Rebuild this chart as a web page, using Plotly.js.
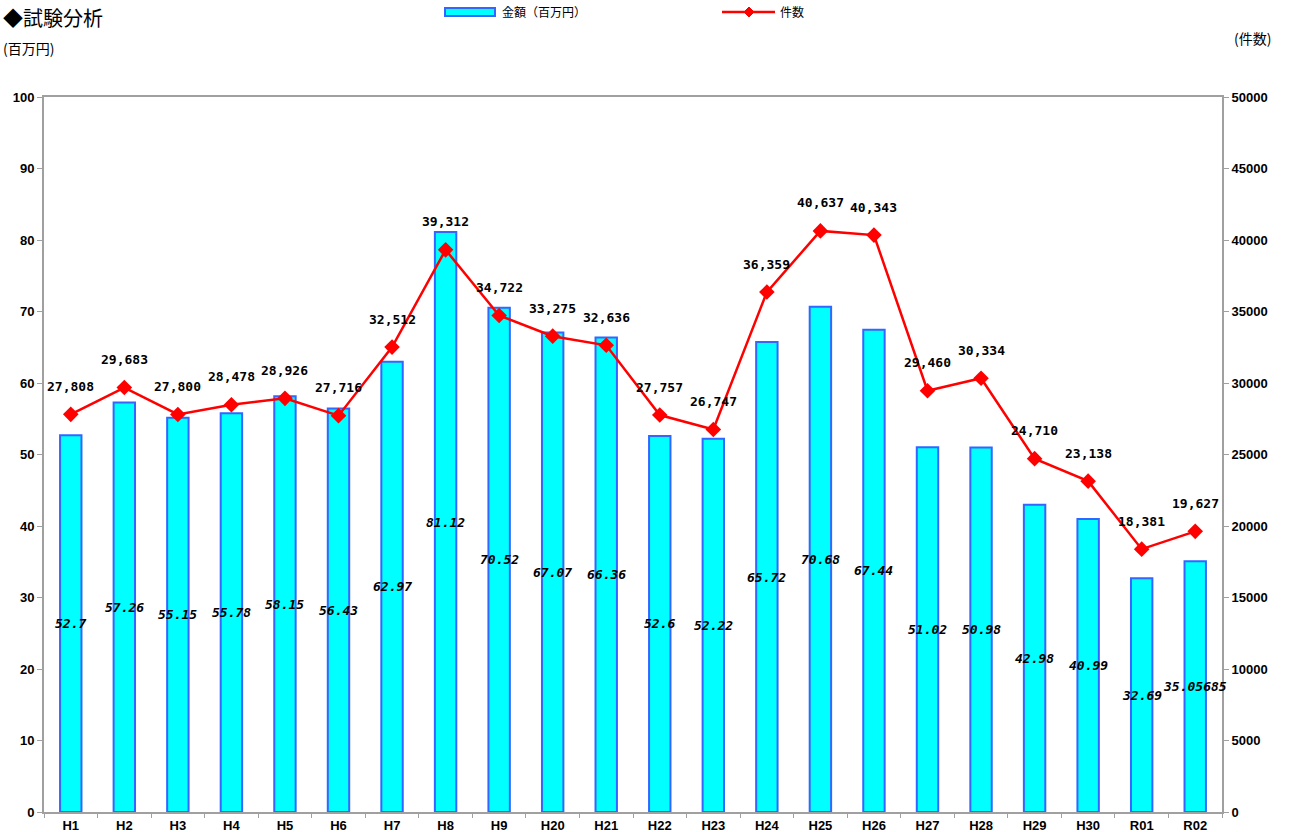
<!DOCTYPE html>
<html>
<head>
<meta charset="utf-8">
<script src="https://cdn.plot.ly/plotly-3.0.1.min.js"></script>
<style>html,body{margin:0;padding:0;background:#fff;}#chart{width:1291px;height:832px;}</style>
</head>
<body>
<div id="chart"></div>
<script>
const categories = ["H1","H2","H3","H4","H5","H6","H7","H8","H9","H20","H21","H22","H23","H24","H25","H26","H27","H28","H29","H30","R01","R02"];
const amounts = [52.7,57.26,55.15,55.78,58.15,56.43,62.97,81.12,70.52,67.07,66.36,52.6,52.22,65.72,70.68,67.44,51.02,50.98,42.98,40.99,32.69,35.05685];
const counts = [27808,29683,27800,28478,28926,27716,32512,39312,34722,33275,32636,27757,26747,36359,40637,40343,29460,30334,24710,23138,18381,19627];
const leftTicks = [0,10,20,30,40,50,60,70,80,90,100];
const rightTicks = [0,5000,10000,15000,20000,25000,30000,35000,40000,45000,50000];

const L = 44, R = 69, T = 97, B = 20, W = 1291, H = 832;
const pw = W - L - R, ph = H - T - B;
const px = x => (x - L) / pw;
const py = y => (H - B - y) / ph;

const monoFont = {family: "DejaVu Sans Mono", size: 13, color: "#000", weight: "bold"};
const tickFont = {family: "Liberation Sans Narrow, Liberation Sans", size: 13, color: "#000", weight: "bold"};

const bars = {
  type: "bar", x: categories, y: amounts, yaxis: "y", width: 0.4,
  marker: {color: "#00FFFF", line: {color: "#3366FF", width: 2}},
  hoverinfo: "skip", showlegend: false
};
const line = {
  type: "scatter", mode: "lines+markers", x: categories, y: counts, yaxis: "y2",
  line: {color: "#FF0000", width: 2.5},
  marker: {symbol: "diamond", size: 12, color: "#FF0000"},
  hoverinfo: "skip", showlegend: false, cliponaxis: false
};

const annotations = [];
categories.forEach((c, i) => {
  annotations.push({x: c, y: amounts[i] / 2, xref: "x", yref: "y", text: String(amounts[i]),
    showarrow: false, font: Object.assign({}, monoFont, {style: "italic"}), xanchor: "center", yanchor: "middle"});
  annotations.push({x: c, y: counts[i], xref: "x", yref: "y2", text: counts[i].toLocaleString("en-US"),
    showarrow: false, font: monoFont, xanchor: "center", yanchor: "middle", yshift: 28});
});
annotations.push({xref: "paper", yref: "paper", x: px(1), y: py(17), xanchor: "left", yanchor: "middle",
  text: "◆試験分析", showarrow: false, font: {family: "Noto Sans CJK JP", size: 20, color: "#000"}});
annotations.push({xref: "paper", yref: "paper", x: px(1), y: py(48), xanchor: "left", yanchor: "middle",
  text: "(百万円)", showarrow: false, font: {family: "Noto Sans CJK JP", size: 14, color: "#000"}});
annotations.push({xref: "paper", yref: "paper", x: px(1252), y: py(38), xanchor: "center", yanchor: "middle",
  text: "(件数)", showarrow: false, font: {family: "Noto Sans CJK JP", size: 14, color: "#000"}});
annotations.push({xref: "paper", yref: "paper", x: px(500), y: py(12), xanchor: "left", yanchor: "middle",
  text: "金額（百万円）", showarrow: false, font: {family: "Noto Sans CJK JP", size: 12, color: "#000"}});
annotations.push({xref: "paper", yref: "paper", x: px(778), y: py(12), xanchor: "left", yanchor: "middle",
  text: "件数", showarrow: false, font: {family: "Noto Sans CJK JP", size: 12, color: "#000"}});

const dx = 5 / pw, dy = 5 / ph, cx = px(749), cy = py(12);
const shapes = [
  {type: "rect", xref: "paper", yref: "paper", x0: px(445), x1: px(495), y0: py(16), y1: py(8),
   fillcolor: "#00FFFF", line: {color: "#3366FF", width: 2}},
  {type: "line", xref: "paper", yref: "paper", x0: px(722), x1: px(775), y0: cy, y1: cy,
   line: {color: "#FF0000", width: 2.5}},
  {type: "path", xref: "paper", yref: "paper",
   path: `M ${cx-dx} ${cy} L ${cx} ${cy+dy} L ${cx+dx} ${cy} L ${cx} ${cy-dy} Z`,
   fillcolor: "#FF0000", line: {color: "#FF0000", width: 1}}
];

const layout = {
  width: W, height: H,
  margin: {l: L, r: R, t: T, b: B, pad: 0},
  paper_bgcolor: "#fff", plot_bgcolor: "#fff",
  xaxis: {type: "category", range: [-0.5, 21.5], showgrid: false, showline: true, linecolor: "#A0A0A0", linewidth: 2,
    mirror: true, ticks: "outside", tickson: "boundaries", ticklen: 4, tickcolor: "#A0A0A0",
    tickfont: tickFont, fixedrange: true},
  yaxis: {range: [0, 100], tickvals: leftTicks, showgrid: false, zeroline: false, showline: true,
    linecolor: "#A0A0A0", linewidth: 2, ticks: "outside", ticklen: 5, tickcolor: "#A0A0A0",
    tickfont: tickFont, fixedrange: true},
  yaxis2: {range: [0, 50000], tickvals: rightTicks, tickformat: "d", overlaying: "y", side: "right", showgrid: false, zeroline: false,
    showline: true, linecolor: "#A0A0A0", linewidth: 2, ticks: "outside", ticklen: 5, tickcolor: "#A0A0A0",
    tickfont: tickFont, fixedrange: true},
  annotations: annotations,
  shapes: shapes,
  showlegend: false,
  bargap: 0.6
};

Plotly.newPlot("chart", [bars, line], layout, {displayModeBar: false, staticPlot: true});
</script>
</body>
</html>
